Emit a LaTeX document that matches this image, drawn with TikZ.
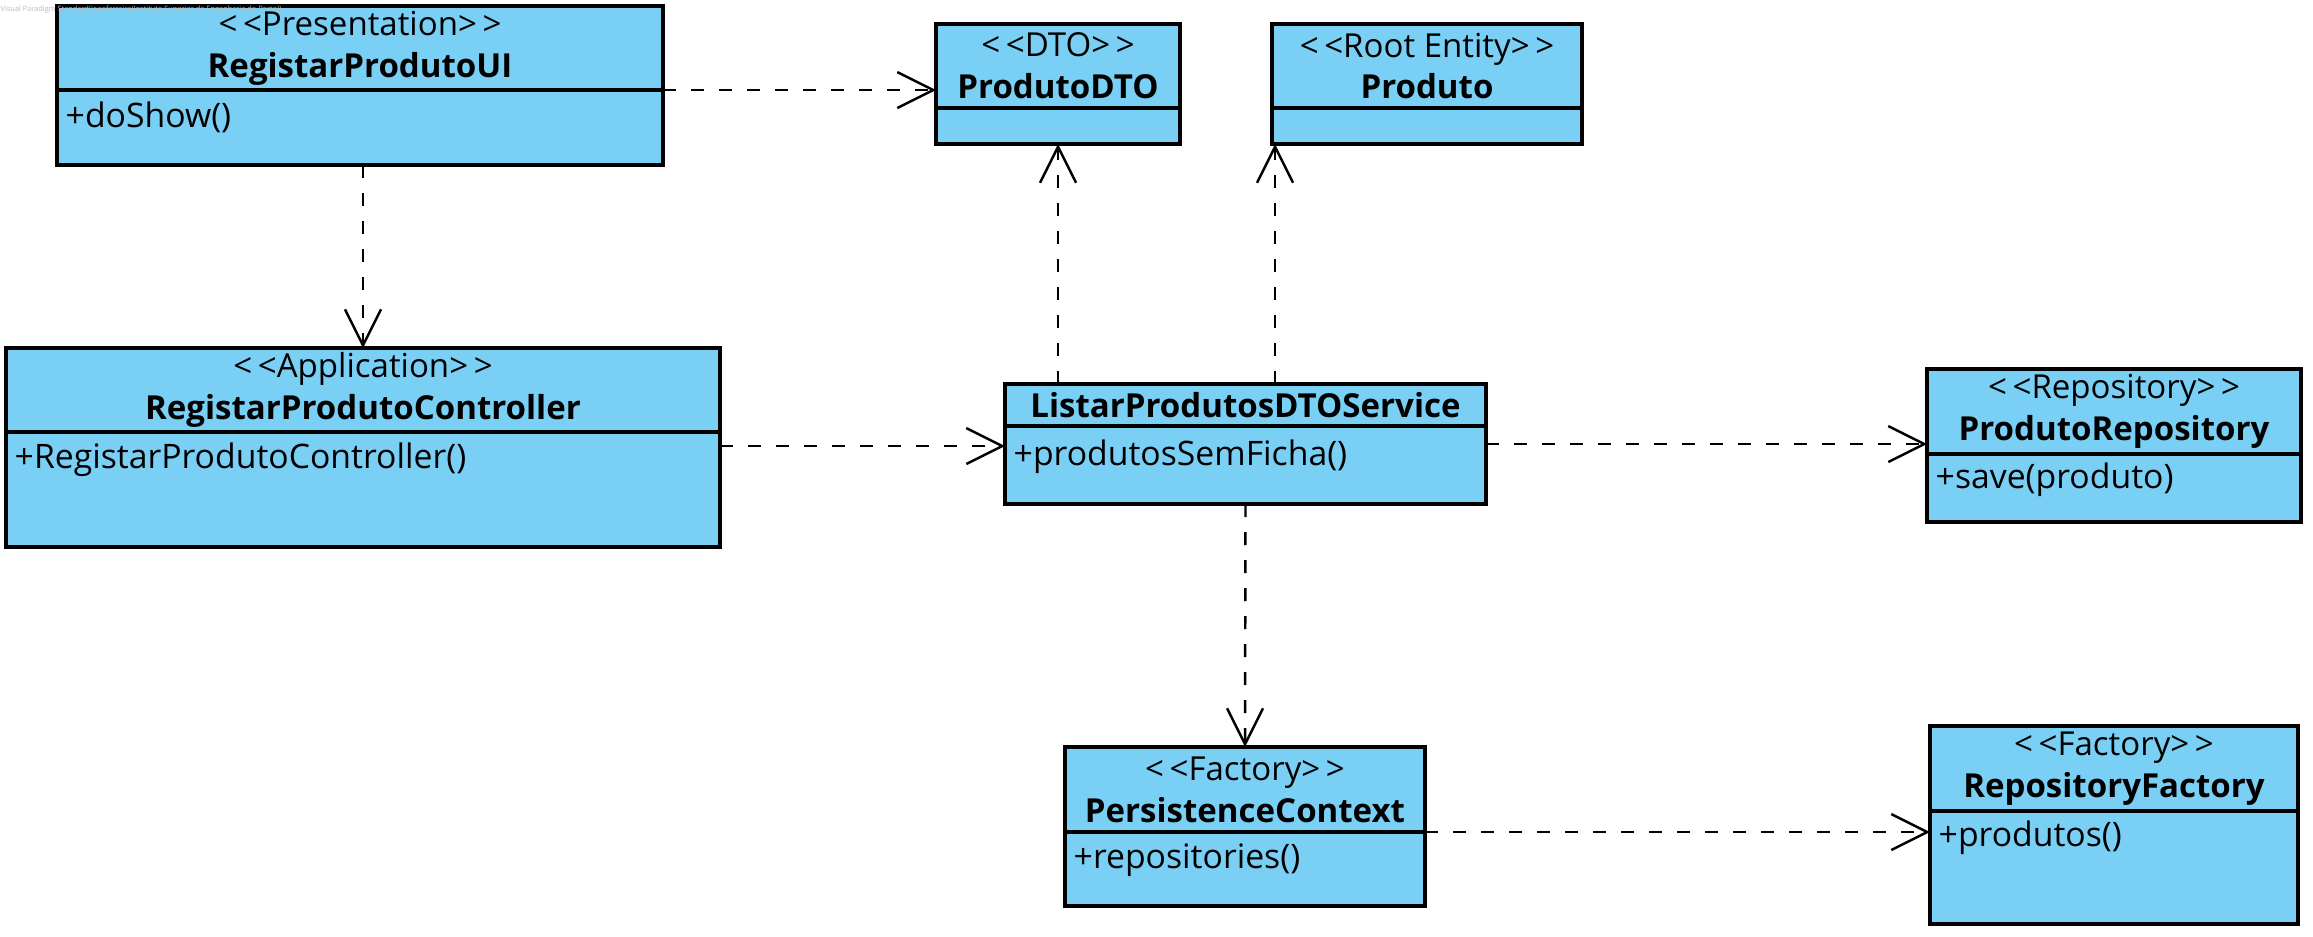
\documentclass[tikz,border=0pt]{standalone}
\usepackage{fontspec}
\setmainfont{Open Sans}
\usetikzlibrary{arrows.meta}
\definecolor{umlblue}{RGB}{122,207,245}
\newcommand\stereo[1]{<\kern1.6pt<#1>\kern1.6pt>}

\begin{document}
\begin{tikzpicture}[x=0.1mm,y=-0.1mm,
  head/.style={draw, fill=umlblue, line width=0.9pt, inner sep=0pt, outer sep=0pt, align=center, anchor=north west, font=\fontsize{9.4}{11.9}\selectfont},
  body/.style={draw, fill=umlblue, line width=0.9pt, inner sep=0pt, outer sep=0pt, anchor=north},
  op/.style={anchor=west, inner sep=0pt, font=\fontsize{9.6}{11}\selectfont},
  dep/.style={line width=0.7pt, dash pattern=on 1.3mm off 1.5mm, -{Straight Barb[length=3.6mm,width=3.6mm]}}]
\useasboundingbox (0,0) rectangle (2313,936);
% classes
\node[head, minimum width=6.06cm, minimum height=0.84cm] (1) at (57,6) {\stereo{Presentation}\\\textbf{RegistarProdutoUI}};
\node[body, minimum width=6.06cm, minimum height=0.75cm] (1b) at (1.south) {};
\node[op] (1o) at ([xshift=0.08cm,yshift=-0.27cm]1b.north west) {+doShow()};
\node[head, minimum width=2.44cm, minimum height=0.84cm] (2) at (936,24) {\stereo{DTO}\\\textbf{ProdutoDTO}};
\node[body, minimum width=2.44cm, minimum height=0.36cm] (2b) at (2.south) {};
\node[head, minimum width=3.10cm, minimum height=0.84cm] (3) at (1272,24) {\stereo{Root Entity}\\\textbf{Produto}};
\node[body, minimum width=3.10cm, minimum height=0.36cm] (3b) at (3.south) {};
\node[head, minimum width=7.14cm, minimum height=0.84cm] (4) at (6,348) {\stereo{Application}\\\textbf{RegistarProdutoController}};
\node[body, minimum width=7.14cm, minimum height=1.15cm] (4b) at (4.south) {};
\node[op] (4o) at ([xshift=0.08cm,yshift=-0.28cm]4b.north west) {+RegistarProdutoController()};
\node[head, minimum width=4.81cm, minimum height=0.42cm] (5) at (1005,384) {\textbf{ListarProdutosDTOService}};
\node[body, minimum width=4.81cm, minimum height=0.78cm] (5b) at (5.south) {};
\node[op] (5o) at ([xshift=0.08cm,yshift=-0.31cm]5b.north west) {+produtosSemFicha()};
\node[head, minimum width=3.74cm, minimum height=0.85cm] (6) at (1927,369) {\stereo{Repository}\\\textbf{ProdutoRepository}};
\node[body, minimum width=3.74cm, minimum height=0.68cm] (6b) at (6.south) {};
\node[op] (6o) at ([xshift=0.08cm,yshift=-0.26cm]6b.north west) {+save(produto)};
\node[head, minimum width=3.60cm, minimum height=0.85cm] (7) at (1065,747) {\stereo{Factory}\\\textbf{PersistenceContext}};
\node[body, minimum width=3.60cm, minimum height=0.74cm] (7b) at (7.south) {};
\node[op] (7o) at ([xshift=0.08cm,yshift=-0.28cm]7b.north west) {+repositories()};
\node[head, minimum width=3.68cm, minimum height=0.85cm] (8) at (1930,726) {\stereo{Factory}\\\textbf{RepositoryFactory}};
\node[body, minimum width=3.68cm, minimum height=1.13cm] (8b) at (8.south) {};
\node[op] (8o) at ([xshift=0.08cm,yshift=-0.27cm]8b.north west) {+produtos()};
\node[anchor=north west, inner sep=0pt, text=gray!55, font=\fontsize{2.1}{3}\selectfont] (0) at (0,5) {Visual Paradigm Standard(joaoferreira(Instituto Superior de Engenharia do Porto))};
% dependencies
\draw[dep] (1b.north east) -- (1b.north east -| 2.west);
\draw[dep] (4.north |- 1b.south) -- (4.north);
\draw[dep] ([yshift=-0.14cm]4b.north east) -- ([yshift=-0.14cm]4b.north east -| 5b.west);
\draw[dep] (2b.south |- 5.north) -- (2b.south);
\draw[dep] ([xshift=0.03cm]3b.south west |- 5.north) -- ([xshift=0.03cm]3b.south west);
\draw[dep] ([yshift=-0.18cm]5b.north east) -- ([yshift=-0.18cm]5b.north east -| 6.west);
\draw[dep] (5b.south) -- (7.north);
\draw[dep] (7b.north east) -- (7b.north east -| 8b.west);
\end{tikzpicture}
\end{document}
